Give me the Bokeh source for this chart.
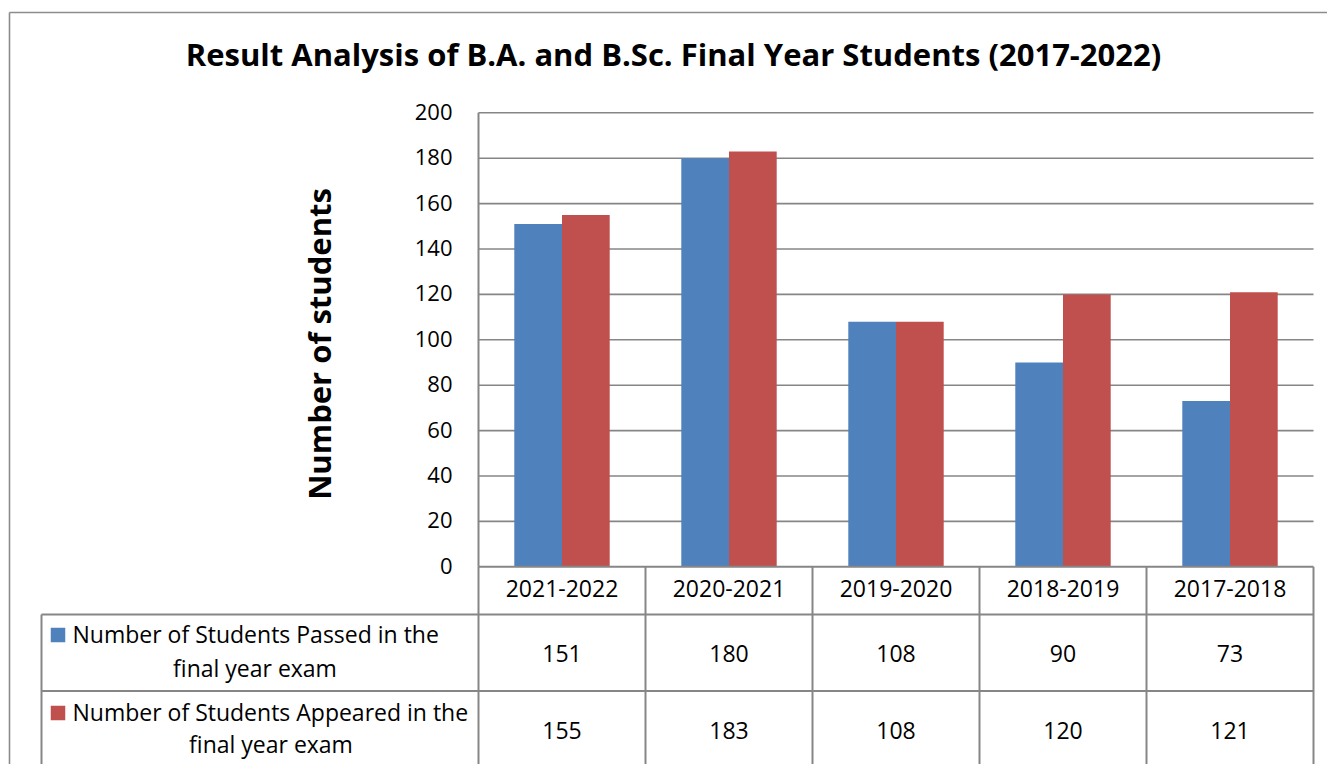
from bokeh.plotting import figure
from bokeh.models import ColumnDataSource, Range1d
from bokeh.embed import file_html
from bokeh.resources import INLINE
from bokeh.core.properties import value
from bokeh.transform import dodge
import math

# ---------------- data ----------------
categories = ["2021-2022", "2020-2021", "2019-2020", "2018-2019", "2017-2018"]
passed = [151, 180, 108, 90, 73]
appeared = [155, 183, 108, 120, 121]
series_passed = ["Number of Students Passed in the", "final year exam"]
series_appeared = ["Number of Students Appeared in the", "final year exam"]
y_ticks = [0, 20, 40, 60, 80, 100, 120, 140, 160, 180, 200]
title_text = "Result Analysis of B.A. and B.Sc. Final Year Students (2017-2022)"
y_label = "Number of students"

BLUE = "#4F81BD"
RED = "#C0504D"
GRAY = "#868686"
FONT = "Open Sans"

# ---------------- layout (page pixels) ----------------
W, H = 1327, 764
M = 0
PX0, PX1 = 478.0, 1313.0          # plot area left / right
PY0, PYT = 566.3, 112.3           # value 0 / top value
n = len(categories)
CAT_W = (PX1 - PX0) / n
K = (PY0 - PYT) / y_ticks[-1]
SHIFT = 0.38                      # baseline correction (em)

TICK_FS = 22
TABLE_FS = 23
TITLE_FS = 31
YLAB_FS = 31


def ux(px):
    return (px - PX0) / CAT_W


def vy(py):
    return (PY0 - py) / K


def base(py, fs):
    return vy(py - SHIFT * fs)


p = figure(width=W, height=H, output_backend="svg", toolbar_location=None,
           x_range=Range1d(ux(M), ux(M + W)), y_range=Range1d(vy(M + H), vy(M)),
           x_axis_location=None, y_axis_location=None, min_border=0)
p.grid.visible = False
p.outline_line_color = None
p.background_fill_color = "white"
p.border_fill_color = "white"

# grid lines
grid_vals = [t for t in y_ticks if t > 0]
p.segment(x0=[0] * len(grid_vals), x1=[n] * len(grid_vals), y0=grid_vals, y1=grid_vals,
          line_color=GRAY, line_width=1.6)

# bars
src = ColumnDataSource(dict(x=[i + 0.5 for i in range(n)], passed=passed, appeared=appeared,
                            cat=categories))
bw = 47.7 / CAT_W
p.vbar(x=dodge("x", -bw / 2, range=p.x_range), top="passed", width=bw, bottom=0, source=src,
       fill_color=BLUE, line_color=None)
p.vbar(x=dodge("x", bw / 2, range=p.x_range), top="appeared", width=bw, bottom=0, source=src,
       fill_color=RED, line_color=None)

# tick labels
p.text(x=[ux(452)] * len(y_ticks), y=y_ticks, text=[str(t) for t in y_ticks],
       text_align="right", text_baseline="alphabetic", y_offset=7.3 - SHIFT * TICK_FS,
       text_font=value(FONT), text_font_size=f"{TICK_FS}px", text_color="black")

# y axis label
p.text(x=[ux(318)], y=[vy(343.5)], text=[y_label], angle=math.pi / 2,
       text_align="center", text_baseline="middle", text_font=value(FONT),
       text_font_style="bold", text_font_size=f"{YLAB_FS}px", text_color="black")

# title
p.text(x=[ux(673)], y=[base(65, TITLE_FS)], text=[title_text], text_align="center",
       text_baseline="alphabetic", text_font=value(FONT), text_font_style="bold",
       text_font_size=f"{TITLE_FS}px", text_color="black")

# data table lines
TL = 41.0
row_y = [566.3, 614.0, 690.5, 790.0]
hx0 = [ux(PX0), ux(TL), ux(TL)]
hx1 = [n, n, n]
hy = [vy(row_y[0]), vy(row_y[1]), vy(row_y[2])]
p.segment(x0=hx0, x1=hx1, y0=hy, y1=hy, line_color=GRAY, line_width=2)
# verticals
vx = [float(i) for i in range(0, n + 1)]
p.segment(x0=vx, x1=vx, y0=[vy(row_y[0])] * len(vx), y1=[vy(row_y[3])] * len(vx),
          line_color=GRAY, line_width=2)
p.segment(x0=[0], x1=[0], y0=[vy(PYT)], y1=[vy(row_y[0])], line_color=GRAY, line_width=2)
p.segment(x0=[ux(TL)], x1=[ux(TL)], y0=[vy(row_y[1])], y1=[vy(row_y[3])],
          line_color=GRAY, line_width=2)

# table header and values
cx = [i + 0.5 for i in range(n)]
tfs = f"{TABLE_FS}px"
p.text(x=cx, y=[base(597, TABLE_FS)] * n, text=categories, text_align="center",
       text_baseline="alphabetic", text_font=value(FONT), text_font_size=tfs, text_color="black")
p.text(x=cx, y=[base(661.7, TABLE_FS)] * n, text=[str(v) for v in passed], text_align="center",
       text_baseline="alphabetic", text_font=value(FONT), text_font_size=tfs, text_color="black")
p.text(x=cx, y=[base(739, TABLE_FS)] * n, text=[str(v) for v in appeared], text_align="center",
       text_baseline="alphabetic", text_font=value(FONT), text_font_size=tfs, text_color="black")

# legend keys
p.scatter(x=[ux(57.5), ux(57.5)], y=[vy(634.5), vy(712.5)], marker="square", size=14.5,
          fill_color=[BLUE, RED], line_color=None)
# legend texts
p.text(x=[ux(72), ux(72)], y=[base(642.7, TABLE_FS), base(720, TABLE_FS)],
       text=[series_passed[0], series_appeared[0]],
       text_align="left", text_baseline="alphabetic", text_font=value(FONT),
       text_font_size=tfs, text_color="black")
p.text(x=[ux(254.5), ux(270.5)], y=[base(676, TABLE_FS), base(752.3, TABLE_FS)],
       text=[series_passed[1], series_appeared[1]],
       text_align="center", text_baseline="alphabetic", text_font=value(FONT),
       text_font_size=tfs, text_color="black")

# outer chart border
p.segment(x0=[ux(9), ux(9)], x1=[ux(M + W), ux(9)], y0=[vy(12), vy(12)], y1=[vy(12), vy(M + H)],
          line_color="#8C8C8C", line_width=1.6)

open("out.html", "w").write(file_html(p, INLINE))
